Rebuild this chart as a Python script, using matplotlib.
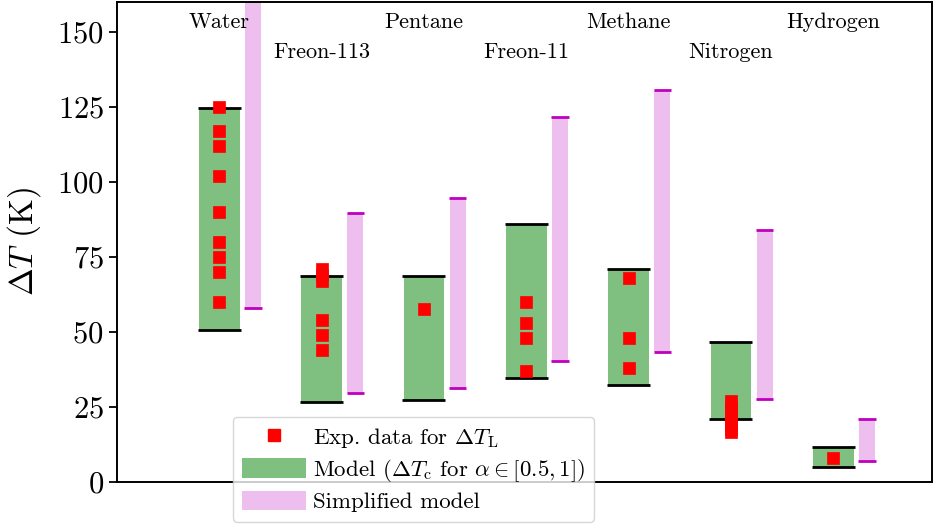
import matplotlib
matplotlib.use("Agg")
import matplotlib.pyplot as plt
from matplotlib.lines import Line2D
from matplotlib.patches import Patch

plt.rcParams["font.family"] = "serif"
plt.rcParams["font.serif"] = ["cmr10", "DejaVu Serif"]
plt.rcParams["mathtext.fontset"] = "cm"
plt.rcParams["axes.formatter.use_mathtext"] = True

# Fluids and their label rows
fluids = ["Water", "Freon-113", "Pentane", "Freon-11", "Methane", "Nitrogen", "Hydrogen"]
label_row = [0, 1, 0, 1, 0, 1, 0]

# Model range of Delta T_c for alpha in [0.5, 1]
model_low = [50.5, 26.5, 27.4, 34.7, 32.2, 20.8, 5.0]
model_high = [124.6, 68.8, 68.8, 86.1, 71.0, 46.7, 11.7]

# Simplified model range
simple_low = [58.0, 29.6, 31.4, 40.3, 43.4, 27.6, 6.8]
simple_high = [178.0, 89.7, 94.7, 121.6, 130.7, 83.9, 21.0]

# Experimental Delta T_L data per fluid
exp_data = [
    [125, 117, 112, 102, 90, 80, 75, 70, 60],
    [71, 69, 67, 54, 49, 44],
    [57.5],
    [60, 53, 48, 37],
    [68, 48, 38],
    [27, 25, 23, 21, 19, 17.5, 16.5],
    [8.1],
]

fig = plt.figure(figsize=(9.36, 5.24), dpi=100)
ax = fig.add_axes([0.125, 0.0805, 0.871, 0.9155])

green_w = 0.40
pink_off = 0.33
pink_w = 0.156
cap_w = 0.42
pink_cap_w = 0.17

for i, name in enumerate(fluids):
    ax.bar(i, model_high[i] - model_low[i], bottom=model_low[i], width=green_w,
           color="green", alpha=0.5, linewidth=0, zorder=1)
    ax.hlines([model_low[i], model_high[i]], i - cap_w / 2, i + cap_w / 2,
              colors="black", linewidth=2.0, zorder=2)
    xp = i + pink_off
    ax.bar(xp, simple_high[i] - simple_low[i], bottom=simple_low[i], width=pink_w,
           color="m", alpha=0.25, linewidth=0, zorder=1)
    ax.hlines([simple_low[i], simple_high[i]], xp - pink_cap_w / 2, xp + pink_cap_w / 2,
              colors="m", linewidth=2.0, zorder=2)
    ax.plot([i] * len(exp_data[i]), exp_data[i], "s", color="red", ms=9,
            mec="red", mew=0.5, zorder=3, clip_on=False)
    ax.text(i, 151.4 - 10 * label_row[i], name, ha="center", va="baseline",
            fontsize=16)

ax.set_xlim(-1.0, 6.967)
ax.set_ylim(0, 160)
ax.set_xticks([])
ax.set_yticks([0, 25, 50, 75, 100, 125, 150])
ax.tick_params(axis="y", labelsize=22, length=6, width=1.3)
ax.set_ylabel(r"$\Delta T$ (K)", fontsize=24, labelpad=10)
for s in ax.spines.values():
    s.set_linewidth(1.4)

handles = [
    Line2D([], [], linestyle="none", marker="s", color="red", ms=9, mec="red"),
    Patch(facecolor="green", alpha=0.5, linewidth=0),
    Patch(facecolor="m", alpha=0.25, linewidth=0),
]
labels = [
    r"Exp. data for $\Delta T_\mathrm{L}$",
    r"Model ($\Delta T_\mathrm{c}$ for $\alpha \in [0.5, 1]$)",
    "Simplified model",
]
ax.legend(handles, labels, loc="lower left", bbox_to_anchor=(0.142, -0.083),
          borderaxespad=0, fontsize=16.5, handlelength=2.8, handleheight=0.95,
          handletextpad=0.3, borderpad=0.4, labelspacing=0.3, numpoints=1,
          framealpha=0.8, edgecolor="0.8")

fig.savefig("out.png", dpi=100)
